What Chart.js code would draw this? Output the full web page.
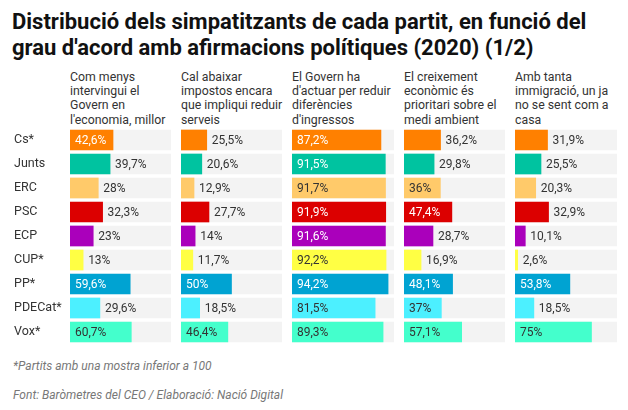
<!DOCTYPE html>
<html>
<head>
<meta charset="utf-8">
<script src="https://cdn.jsdelivr.net/npm/chart.js@4.4.0/dist/chart.umd.min.js"></script>
<style>
  html, body { margin: 0; padding: 0; background: #fff; }
  body { width: 628px; height: 410px; position: relative; overflow: hidden; font-family: Roboto, "Noto Sans", sans-serif; color: #333; }
  .title { position: absolute; left: 12px; top: 9px; font-size: 22px; font-weight: 700; line-height: 26px; color: #111; white-space: nowrap; }
  .hdr { position: absolute; top: 70px; font-size: 12.3px; line-height: 14.2px; color: #333; white-space: nowrap; }
  canvas.cv { position: absolute; top: 128px; }
  .note { position: absolute; left: 13px; font-size: 12px; font-style: italic; color: #777; white-space: nowrap; }
</style>
</head>
<body>
<div class="title">Distribució dels simpatitzants de cada partit, en funció del<br>grau d'acord amb afirmacions polítiques (2020) (1/2)</div>
<div id="headers"></div>
<div id="charts"></div>
<div class="note" style="top:359px">*Partits amb una mostra inferior a 100</div>
<div class="note" style="top:388px">Font: Baròmetres del CEO / Elaboració: Nació Digital</div>
<script>
const parties = ['Cs*', 'Junts', 'ERC', 'PSC', 'ECP', 'CUP*', 'PP*', 'PDECat*', 'Vox*'];
const questions = [
  ['Com menys', 'intervingui el', 'Govern en', "l'economia, millor"],
  ['Cal abaixar', 'impostos encara', 'que impliqui reduir', 'serveis'],
  ['El Govern ha', "d'actuar per reduir", 'diferències', "d'ingressos"],
  ['El creixement', 'econòmic és', 'prioritari sobre el', 'medi ambient'],
  ['Amb tanta', 'immigració, un ja', 'no se sent com a', 'casa']
];
const q1 = [42.6, 39.7, 28, 32.3, 23, 13, 59.6, 29.6, 60.7];
const q2 = [25.5, 20.6, 12.9, 27.7, 14, 11.7, 50, 18.5, 46.4];
const q3 = [87.2, 91.5, 91.7, 91.9, 91.6, 92.2, 94.2, 81.5, 89.3];
const q4 = [36.2, 29.8, 36, 47.4, 28.7, 16.9, 48.1, 37, 57.1];
const q5 = [31.9, 25.5, 20.3, 32.9, 10.1, 2.6, 53.8, 18.5, 75];
const full = [100, 100, 100, 100, 100, 100, 100, 100, 100];

const partyColors = ['#ff8000', '#00c3a0', '#ffca6a', '#dc0000', '#aa00bb', '#ffff44', '#00a3d2', '#4cf0ff', '#44ffcc'];
const insideText = ['#ffffff', '#ffffff', '#333333', '#ffffff', '#ffffff', '#333333', '#ffffff', '#333333', '#333333'];

const series = [q1, q2, q3, q4, q5];
const colLeft = [70, 181, 292, 404, 515];
const colWidth = [101, 101, 102, 101, 102];
const rowLabelLeft = 14;
const chartHeight = 216;

const labelPlugin = {
  id: 'valueLabels',
  afterDatasetsDraw(chart) {
    const ctx = chart.ctx;
    const meta = chart.getDatasetMeta(0);
    const data = chart.data.datasets[0].data;
    ctx.save();
    ctx.font = '12px Roboto, "Noto Sans", sans-serif';
    ctx.textBaseline = 'middle';
    ctx.textAlign = 'left';
    const pad = 5;
    meta.data.forEach((el, i) => {
      const txt = String(data[i]).replace('.', ',') + '%';
      const w = ctx.measureText(txt).width;
      const barW = el.x - el.base;
      if (barW >= w + 2 * pad) {
        ctx.fillStyle = insideText[i];
        ctx.fillText(txt, el.base + pad, el.y + 0.5);
      } else {
        ctx.fillStyle = '#333333';
        ctx.fillText(txt, el.x + pad, el.y + 0.5);
      }
    });
    ctx.restore();
  }
};

const hdrBox = document.getElementById('headers');
const chartBox = document.getElementById('charts');

series.forEach((vals, c) => {
  const h = document.createElement('div');
  h.className = 'hdr';
  h.style.left = colLeft[c] + 'px';
  h.innerHTML = questions[c].join('<br>');
  hdrBox.appendChild(h);

  const first = c === 0;
  const left = first ? rowLabelLeft : colLeft[c];
  const width = first ? (colLeft[0] + colWidth[0] - rowLabelLeft) : colWidth[c];
  const cv = document.createElement('canvas');
  cv.className = 'cv';
  cv.width = width;
  cv.height = chartHeight;
  cv.style.left = left + 'px';
  cv.style.width = width + 'px';
  cv.style.height = chartHeight + 'px';
  chartBox.appendChild(cv);

  const yScale = {
    display: first,
    grid: { display: false, drawTicks: false },
    border: { display: false },
    ticks: {
      crossAlign: 'far',
      padding: 0,
      color: '#333',
      font: { family: 'Roboto, "Noto Sans", sans-serif', size: 12.5 }
    }
  };
  if (first) {
    yScale.afterFit = (scale) => {
      scale.width = colLeft[0] - rowLabelLeft;
      scale.paddingTop = 0;
      scale.paddingBottom = 0;
    };
  }

  new Chart(cv, {
    type: 'bar',
    data: {
      labels: parties,
      datasets: [
        { data: vals, backgroundColor: partyColors, barThickness: 20, grouped: false, borderWidth: 0 },
        { data: full, backgroundColor: '#f3f3f3', barThickness: 20, grouped: false, borderWidth: 0 }
      ]
    },
    options: {
      indexAxis: 'y',
      responsive: false,
      animation: false,
      devicePixelRatio: 1,
      layout: { padding: 0 },
      plugins: { legend: { display: false }, tooltip: { enabled: false } },
      scales: {
        x: { display: false, min: 0, max: 100 },
        y: yScale
      }
    },
    plugins: [labelPlugin]
  });
});
</script>
</body>
</html>
